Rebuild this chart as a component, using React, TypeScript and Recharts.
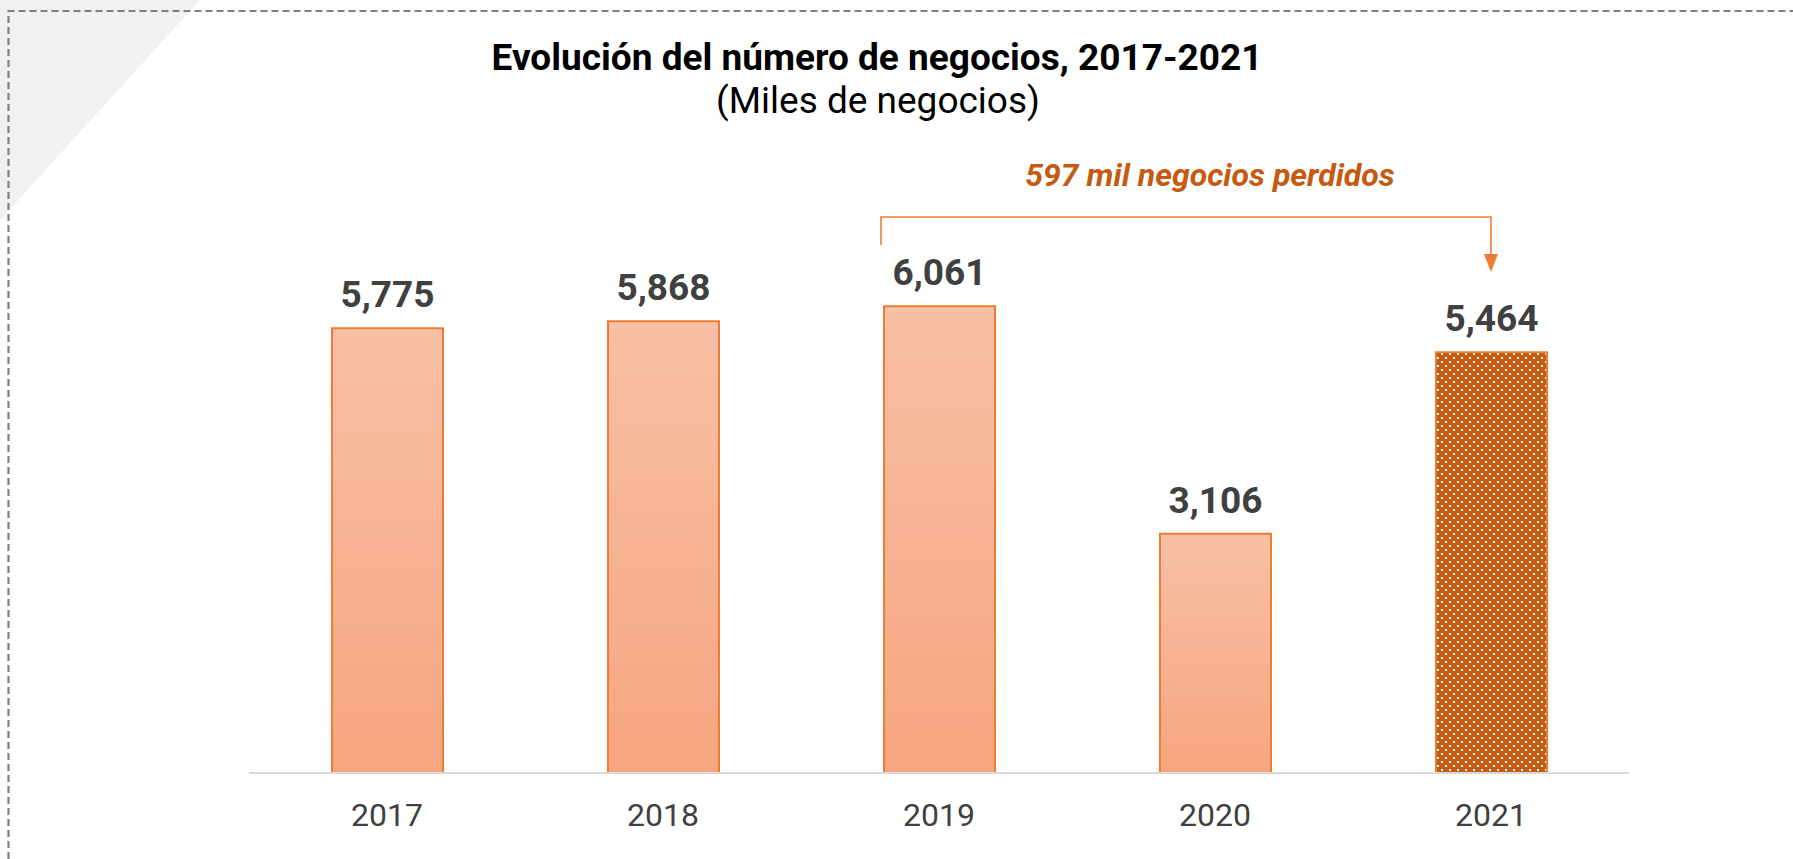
import React from 'react';
import {
  Bar, BarChart, Cell, LabelList, ReferenceLine, XAxis, YAxis,
} from 'recharts';

const years = ['2017', '2018', '2019', '2020', '2021'];
const negocios = [5775, 5868, 6061, 3106, 5464];
const highlightYear = '2021';
const bracketFrom = '2019';
const bracketTo = '2021';
const bracketLevel = 7220;
const lostLabel = '597 mil negocios perdidos';

const dataList = years.map((year, i) => ({ year, negocios: negocios[i] }));

const ORANGE = '#ED7D31';
const DARK_ORANGE = '#C55A11';
const FONT = 'Roboto, "Noto Sans", sans-serif';

const fmt = (v: number) => v.toLocaleString('en-US');

// bracket + arrow + text above the last two years
const Bracket = (props: any) => {
  const { x1, y1, x2 } = props;
  const left = x1 - 58;
  return (
    <g>
      <path
        d={`M${left},${y1 + 28} V${y1} H${x2} V${y1 + 40}`}
        fill="none"
        stroke={ORANGE}
        strokeWidth={1.6}
      />
      <polygon
        points={`${x2 - 7},${y1 + 37} ${x2 + 7},${y1 + 37} ${x2},${y1 + 55}`}
        fill={ORANGE}
      />
      <text
        x={(left + x2) / 2 + 24}
        y={y1 - 31}
        textAnchor="middle"
        fontFamily={FONT}
        fontSize={32}
        fontWeight={700}
        fontStyle="italic"
        fill={DARK_ORANGE}
      >
        {lostLabel}
      </text>
    </g>
  );
};

const App: React.FC = () => (
  <div style={{
    position: 'absolute', left: 0, top: 0, width: 1793, height: 859, background: '#fff', overflow: 'hidden',
  }}
  >
    <svg width={1793} height={859} style={{ position: 'absolute', left: 0, top: 0 }}>
      <polygon points="0,0 200,0 0,220" fill="#F0F1F3" />
      <path d="M8.5,859 V11 H1793" fill="none" stroke="#808080" strokeWidth={2.2} strokeDasharray="7 4" />
      <text x={877} y={70} textAnchor="middle" fontFamily={FONT} fontSize={37} fontWeight={700} fill="#000">
        Evolución del número de negocios, 2017-2021
      </text>
      <text x={878} y={113} textAnchor="middle" fontFamily={FONT} fontSize={37} fill="#000">
        (Miles de negocios)
      </text>
    </svg>
    <div style={{ position: 'absolute', left: 0, top: 0 }}>
      <BarChart
        width={1793}
        height={859}
        data={dataList}
        margin={{
          top: 234, right: 164, left: 249, bottom: 26,
        }}
      >
        <defs>
          <linearGradient id="barFill" x1="0" y1="0" x2="0" y2="1">
            <stop offset="0%" stopColor="#F8C0A6" />
            <stop offset="100%" stopColor="#F6A57F" />
          </linearGradient>
          <pattern id="dots" width="8" height="8" patternUnits="userSpaceOnUse">
            <rect width="8" height="8" fill={DARK_ORANGE} />
            <rect x="1" y="1" width="2" height="2" fill="#fff" />
            <rect x="5" y="5" width="2" height="2" fill="#fff" />
          </pattern>
        </defs>
        <XAxis
          dataKey="year"
          height={60}
          tickLine={false}
          tickSize={0}
          tickMargin={30}
          axisLine={{ stroke: '#D9D9D9', strokeWidth: 2 }}
          tick={{ fontFamily: FONT, fontSize: 32, fill: '#404040' }}
        />
        <YAxis hide domain={[0, 7000]} />
        <Bar dataKey="negocios" barSize={111} stroke={ORANGE} strokeWidth={2} isAnimationActive={false}>
          {dataList.map((d) => (
            <Cell key={d.year} fill={d.year === highlightYear ? 'url(#dots)' : 'url(#barFill)'} />
          ))}
          <LabelList
            dataKey="negocios"
            position="top"
            offset={21}
            formatter={(v: any) => fmt(Number(v))}
            style={{ fontFamily: FONT, fontSize: 37, fontWeight: 700, fill: '#404040' }}
          />
        </Bar>
        <ReferenceLine
          segment={[{ x: bracketFrom, y: bracketLevel }, { x: bracketTo, y: bracketLevel }]}
          ifOverflow="visible"
          shape={Bracket}
        />
      </BarChart>
    </div>
  </div>
);

export default App;
